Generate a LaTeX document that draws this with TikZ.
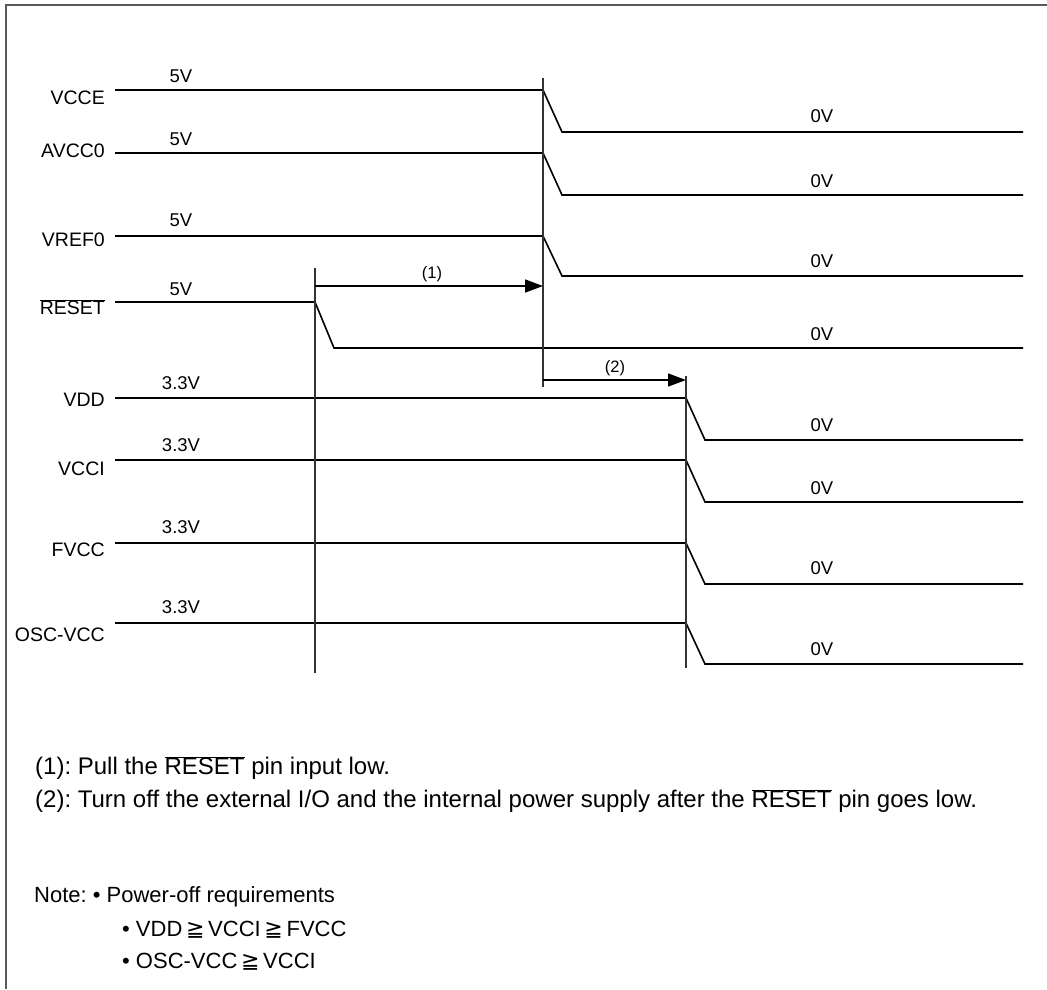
\documentclass[tikz,border=0pt]{standalone}
\usepackage{fontspec}
\setmainfont{Liberation Sans}
\newfontfamily\symfont{DejaVu Sans}
\usetikzlibrary{arrows.meta}
\newcommand{\geqq}{{\symfont\char"2267}}
\newcommand{\rstbar}{$\overline{\mbox{RESET}}$}
\frenchspacing
\begin{document}
\begin{tikzpicture}[x=1pt,y=-1pt,
  sig/.style={line width=1.6pt,black},
  guide/.style={line width=1.1pt,black!80},
  frame/.style={line width=1.6pt,black!65},
  lbl/.style={anchor=east,inner sep=0pt,font=\fontsize{19.5}{22}\selectfont},
  lvl/.style={inner sep=0pt,font=\fontsize{18.5}{21}\selectfont},
  tag/.style={inner sep=0pt,font=\fontsize{16.5}{19}\selectfont},
  foot/.style={anchor=west,inner sep=0pt,font=\fontsize{24}{28}\selectfont},
  note/.style={anchor=west,inner sep=0pt,font=\fontsize{22}{26}\selectfont},
  arr/.style={line width=1.6pt,-{Triangle[length=18pt,width=13pt]}}]
\useasboundingbox (0,0) rectangle (1047,989);
\draw[frame] (6,989) -- (6,5) -- (1047,5);
% signals: name / label / high y / low y / drop x / level / label y / level y / 0V y
\foreach \n/\t/\h/\l/\d/\v/\ly/\vy/\oy in {
  vcce/VCCE/90/132/543/5V/98/76/116,
  avcc/AVCC0/153/195/543/5V/151/139/181,
  vref/VREF0/236/276/543/5V/240/220/261,
  rst/\rstbar/302/348/315/5V/307/289/334,
  vdd/VDD/398/440/686/3.3V/400/383/425,
  vcci/VCCI/460/502/686/3.3V/469/445/488,
  fvcc/FVCC/543/584/686/3.3V/550/527/568,
  osc/OSC-VCC/623/664/686/3.3V/635/607/649}{
  \node[lbl] (\n-name) at (105,\ly) {\t};
  \coordinate (\n-s) at (115,\h);
  \coordinate (\n-a) at (\d,\h);
  \coordinate (\n-b) at (\d+19,\l);
  \coordinate (\n-e) at (1023,\l);
  \draw[sig] (\n-s) -- (\n-a) -- (\n-b) -- (\n-e);
  \node[lvl] (\n-hi) at (181,\vy) {\v};
  \node[lvl] (\n-lo) at (822,\oy) {0V};
}
% guide lines
\coordinate (g1t) at (315,268); \coordinate (g1b) at (315,673);
\coordinate (g2t) at (543,78);  \coordinate (g2b) at (543,387);
\coordinate (g3t) at (686,376); \coordinate (g3b) at (686,668);
\draw[guide] (g1t) -- (g1b);
\draw[guide] (g2t) -- (g2b);
\draw[guide] (g3t) -- (g3b);
% arrows
\coordinate (a1s) at (315,286); \coordinate (a1e) at (543,286);
\coordinate (a2s) at (543,380); \coordinate (a2e) at (686,380);
\draw[arr] (a1s) -- (a1e);
\draw[arr] (a2s) -- (a2e);
\node[tag] (t1) at (432,274) {(1)};
\node[tag] (t2) at (615,368) {(2)};
% footnotes
\node[foot] (f1) at (35,768) {(1): Pull the \rstbar{} pin input low.};
\node[foot] (f2) at (35,801) {(2): Turn off the external I/O and the internal power supply after the \rstbar{} pin goes low.};
\node[note] (n1) at (34,897) {Note: \textbullet{} Power-off requirements};
\node[note] (n2) at (122,930) {\textbullet{} VDD\,\geqq\,VCCI\,\geqq\,FVCC};
\node[note] (n3) at (122,962) {\textbullet{} OSC-VCC\,\geqq\,VCCI};
\end{tikzpicture}
\end{document}
